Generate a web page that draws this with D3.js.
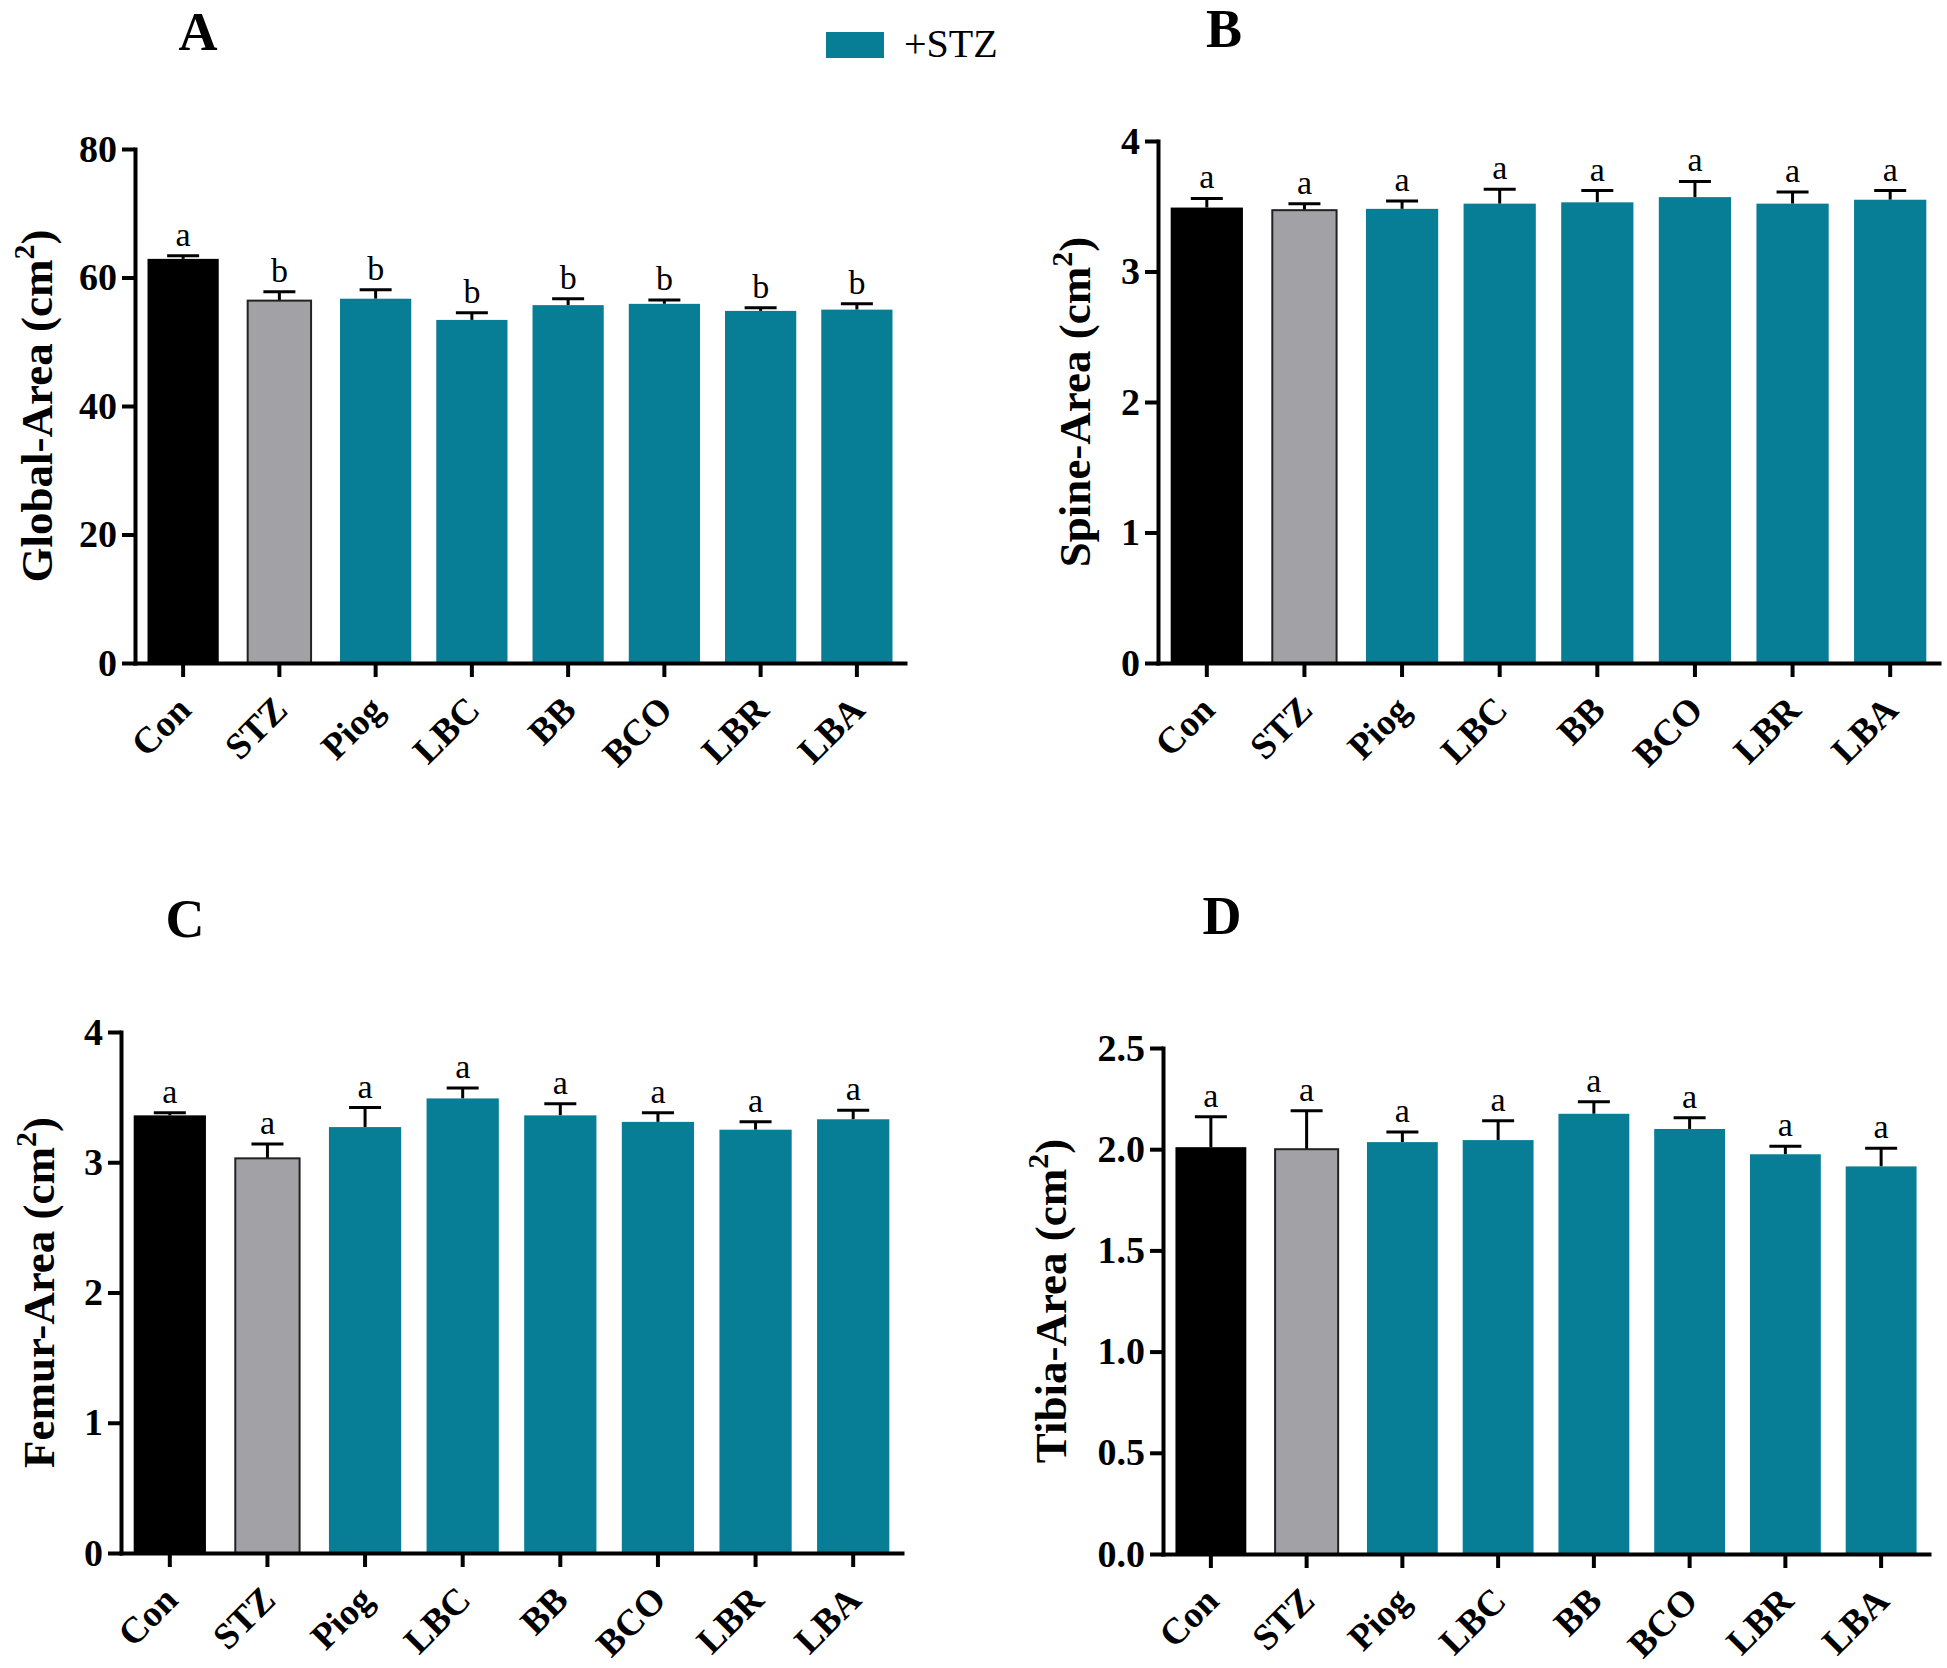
<!DOCTYPE html>
<html>
<head>
<meta charset="utf-8">
<script src="https://cdn.jsdelivr.net/npm/d3@7"></script>
<style>
  body { margin: 0; background: #fff; }
  svg text { font-family: "Liberation Serif", "Times New Roman", serif; }
</style>
</head>
<body>
<div id="chart"></div>
<script>
// bar chart panels A-D: bone area per treatment group (mean + SEM)

const categories = ["Con", "STZ", "Piog", "LBC", "BB", "BCO", "LBR", "LBA"];

const globalArea = [62.9, 56.4, 56.7, 53.4, 55.7, 55.9, 54.8, 55.0];
const globalErr  = [0.5, 1.4, 1.4, 1.1, 1.0, 0.6, 0.5, 0.9];
const globalSig  = ["a", "b", "b", "b", "b", "b", "b", "b"];

const spineArea = [3.49, 3.47, 3.48, 3.52, 3.53, 3.57, 3.52, 3.55];
const spineErr  = [0.07, 0.05, 0.06, 0.11, 0.09, 0.12, 0.09, 0.07];
const spineSig  = ["a", "a", "a", "a", "a", "a", "a", "a"];

const femurArea = [3.36, 3.03, 3.27, 3.49, 3.36, 3.31, 3.25, 3.33];
const femurErr  = [0.02, 0.11, 0.15, 0.08, 0.09, 0.07, 0.06, 0.07];
const femurSig  = ["a", "a", "a", "a", "a", "a", "a", "a"];

const tibiaArea = [2.01, 2.00, 2.035, 2.045, 2.175, 2.10, 1.975, 1.915];
const tibiaErr  = [0.15, 0.19, 0.05, 0.095, 0.06, 0.055, 0.04, 0.09];
const tibiaSig  = ["a", "a", "a", "a", "a", "a", "a", "a"];

const yTicksA = [0, 20, 40, 60, 80];
const yTicksB = [0, 1, 2, 3, 4];
const yTicksC = [0, 1, 2, 3, 4];
const yTicksD = [0, 0.5, 1.0, 1.5, 2.0, 2.5];

const legendLabel = "+STZ";

const TEAL = "#087e96";
const GRAY = "#a2a1a6";
const fillFor = i => i === 0 ? "#000" : (i === 1 ? GRAY : TEAL);
const SERIF = "'Liberation Serif', 'Times New Roman', serif";

const W = 1947, H = 1668;
const svg = d3.select("#chart").append("svg")
    .attr("width", W)
    .attr("height", H);

// panel layout (pixel boxes)
const panels = [
  { letter: "A", lx: 198, ly: 50, x0: 135, x1: 905, yTop: 149, yBot: 663, labelX: 52,
    title: "Global-Area", max: 80, ticks: yTicksA, fmt: d3.format("d"),
    values: globalArea, errs: globalErr, sig: globalSig },
  { letter: "B", lx: 1224, ly: 47, x0: 1158, x1: 1939, yTop: 141, yBot: 663, labelX: 1090,
    title: "Spine-Area", max: 4, ticks: yTicksB, fmt: d3.format("d"),
    values: spineArea, errs: spineErr, sig: spineSig },
  { letter: "C", lx: 185, ly: 937, x0: 121, x1: 902, yTop: 1032, yBot: 1553, labelX: 54,
    title: "Femur-Area", max: 4, ticks: yTicksC, fmt: d3.format("d"),
    values: femurArea, errs: femurErr, sig: femurSig },
  { letter: "D", lx: 1222, ly: 934, x0: 1163, x1: 1929, yTop: 1048, yBot: 1554, labelX: 1066,
    title: "Tibia-Area", max: 2.5, ticks: yTicksD, fmt: d3.format(".1f"),
    values: tibiaArea, errs: tibiaErr, sig: tibiaSig }
];

panels.forEach(drawPanel);

function drawPanel(p) {
  const g = svg.append("g");

  const x = d3.scaleBand()
      .domain(categories)
      .range([p.x0, p.x1])
      .paddingInner(0.26)
      .paddingOuter(0.13);

  const y = d3.scaleLinear()
      .domain([0, p.max])
      .range([p.yBot, p.yTop]);

  const rows = categories.map((c, i) => ({
    cat: c, i: i, v: p.values[i], e: p.errs[i], s: p.sig[i]
  }));

  // error bars (upper only), drawn under bars so the stem starts at bar top
  const capW = 32;
  const eb = g.append("g").attr("stroke", "#000").attr("stroke-width", 3);
  eb.selectAll("line.stem")
    .data(rows)
    .join("line")
      .attr("class", "stem")
      .attr("x1", d => x(d.cat) + x.bandwidth() / 2)
      .attr("x2", d => x(d.cat) + x.bandwidth() / 2)
      .attr("y1", d => y(d.v))
      .attr("y2", d => y(d.v + d.e));
  eb.selectAll("line.cap")
    .data(rows)
    .join("line")
      .attr("class", "cap")
      .attr("x1", d => x(d.cat) + x.bandwidth() / 2 - capW / 2)
      .attr("x2", d => x(d.cat) + x.bandwidth() / 2 + capW / 2)
      .attr("y1", d => y(d.v + d.e))
      .attr("y2", d => y(d.v + d.e));

  // bars; STZ bar is the outlined grey one and a bit narrower
  g.selectAll("rect.bar")
    .data(rows)
    .join("rect")
      .attr("class", "bar")
      .attr("x", d => {
        const w = d.i === 1 ? x.bandwidth() * 0.89 : x.bandwidth();
        return x(d.cat) + (x.bandwidth() - w) / 2;
      })
      .attr("width", d => d.i === 1 ? x.bandwidth() * 0.89 : x.bandwidth())
      .attr("y", d => y(d.v))
      .attr("height", d => y(0) - y(d.v))
      .attr("fill", d => fillFor(d.i))
      .attr("stroke", d => d.i === 1 ? "#222" : "none")
      .attr("stroke-width", 2);

  // significance letters
  g.selectAll("text.sig")
    .data(rows)
    .join("text")
      .attr("class", "sig")
      .attr("x", d => x(d.cat) + x.bandwidth() / 2)
      .attr("y", d => y(d.v + d.e) - 10)
      .attr("text-anchor", "middle")
      .attr("font-size", 34)
      .text(d => d.s);

  // y axis
  const yAxis = g.append("g")
      .attr("transform", `translate(${p.x0},0)`)
      .call(d3.axisLeft(y).tickValues(p.ticks).tickFormat(p.fmt).tickSize(13).tickSizeOuter(0).tickPadding(5));
  yAxis.select(".domain").attr("stroke-width", 4).attr("stroke-linecap", "square");
  yAxis.selectAll(".tick line").attr("stroke-width", 4);
  yAxis.selectAll(".tick text")
      .attr("font-size", 38)
      .attr("font-weight", "bold")
      .attr("fill", "#000")
      .style("font-family", SERIF);

  // x axis
  const xAxis = g.append("g")
      .attr("transform", `translate(0,${p.yBot})`)
      .call(d3.axisBottom(x).tickSize(14).tickSizeOuter(0));
  xAxis.select(".domain").attr("stroke-width", 4).attr("stroke-linecap", "square");
  xAxis.selectAll(".tick line").attr("stroke-width", 4);
  xAxis.selectAll(".tick text")
      .attr("x", 0).attr("y", 0).attr("dy", 0)
      .attr("text-anchor", "end")
      .attr("transform", "translate(10,49) rotate(-45)")
      .attr("font-size", 37)
      .attr("font-weight", "bold")
      .attr("fill", "#000")
      .style("font-family", SERIF);

  // y label
  const yl = g.append("text")
      .attr("transform", `translate(${p.labelX},${(p.yTop + p.yBot) / 2}) rotate(-90)`)
      .attr("text-anchor", "middle")
      .attr("font-size", 45)
      .attr("font-weight", "bold");
  yl.append("tspan").text(p.title + " (cm");
  yl.append("tspan").attr("font-size", 30).attr("dy", -18).text("2");
  yl.append("tspan").attr("dy", 18).text(")");

  // panel letter
  g.append("text")
      .attr("x", p.lx)
      .attr("y", p.ly)
      .attr("text-anchor", "middle")
      .attr("font-size", 54)
      .attr("font-weight", "bold")
      .text(p.letter);
}

// legend
const lg = svg.append("g");
lg.append("rect")
    .attr("x", 826).attr("y", 32)
    .attr("width", 58).attr("height", 26)
    .attr("fill", TEAL);
lg.append("text")
    .attr("x", 904).attr("y", 57)
    .attr("font-size", 40)
    .text(legendLabel);
</script>
</body>
</html>
